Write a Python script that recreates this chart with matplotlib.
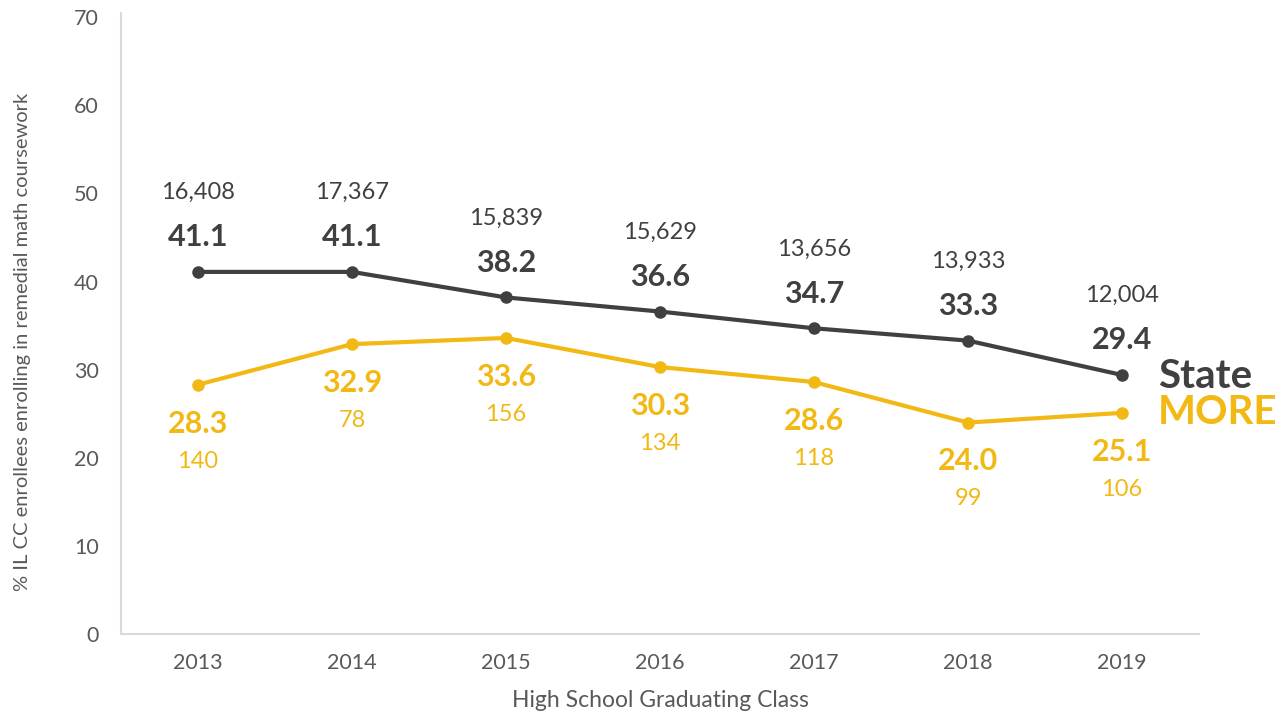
import matplotlib
matplotlib.use("Agg")
from matplotlib import pyplot as plt

years = ["2013", "2014", "2015", "2016", "2017", "2018", "2019"]
state_pct = [41.1, 41.1, 38.2, 36.6, 34.7, 33.3, 29.4]
state_n = ["16,408", "17,367", "15,839", "15,629", "13,656", "13,933", "12,004"]
more_pct = [28.3, 32.9, 33.6, 30.3, 28.6, 24.0, 25.1]
more_n = ["140", "78", "156", "134", "118", "99", "106"]

dark = "#404040"
gold = "#F2B814"
grey = "#595959"

plt.rcParams["font.family"] = ["Lato", "DejaVu Sans"]

fig = plt.figure(figsize=(12.81, 7.14), dpi=100)
ax = fig.add_axes([0.0945, 0.112, 0.8415, 0.870])

x = list(range(len(years)))
ax.plot(x, state_pct, color=dark, linewidth=3, marker="o", markersize=8)
ax.plot(x, more_pct, color=gold, linewidth=3, marker="o", markersize=8)

for i in x:
    ax.annotate(f"{state_pct[i]:.1f}", (i, state_pct[i]), xytext=(0, 25), textcoords="offset points",
                ha="center", va="center", fontsize=22, fontweight="bold", color=dark)
    ax.annotate(state_n[i], (i, state_pct[i]), xytext=(0, 57), textcoords="offset points",
                ha="center", va="center", fontsize=17, color=dark)
    ax.annotate(f"{more_pct[i]:.1f}", (i, more_pct[i]), xytext=(0, -28), textcoords="offset points",
                ha="center", va="center", fontsize=22, fontweight="bold", color=gold)
    ax.annotate(more_n[i], (i, more_pct[i]), xytext=(0, -55), textcoords="offset points",
                ha="center", va="center", fontsize=17, color=gold)

ax.annotate("State", (x[-1], state_pct[-1]), xytext=(26, -1), textcoords="offset points",
            ha="left", va="center", fontsize=29, fontweight="bold", color=dark, annotation_clip=False)
ax.annotate("MORE", (x[-1], more_pct[-1]), xytext=(26, 0), textcoords="offset points",
            ha="left", va="center", fontsize=29, fontweight="bold", color=gold, annotation_clip=False)

ax.set_xlim(-0.5, 6.5)
ax.set_ylim(0, 70.5)
ax.set_yticks(range(0, 71, 10))
ax.set_xticks(x)
ax.set_xticklabels(years)
ax.tick_params(length=0, labelsize=15.5, colors=grey)
ax.tick_params(axis="y", pad=16)
ax.tick_params(axis="x", pad=14)
for s in ["top", "right"]:
    ax.spines[s].set_visible(False)
for s in ["left", "bottom"]:
    ax.spines[s].set_color("#D9D9D9")
    ax.spines[s].set_linewidth(1.5)

ax.set_xlabel("High School Graduating Class", fontsize=16.5, color=grey, labelpad=12)
ax.set_ylabel("% IL CC enrollees enrolling in remedial math coursework", fontsize=14.5, color=grey)
ax.yaxis.set_label_coords(-0.084, 0.47)

fig.savefig("out.png", dpi=100)
